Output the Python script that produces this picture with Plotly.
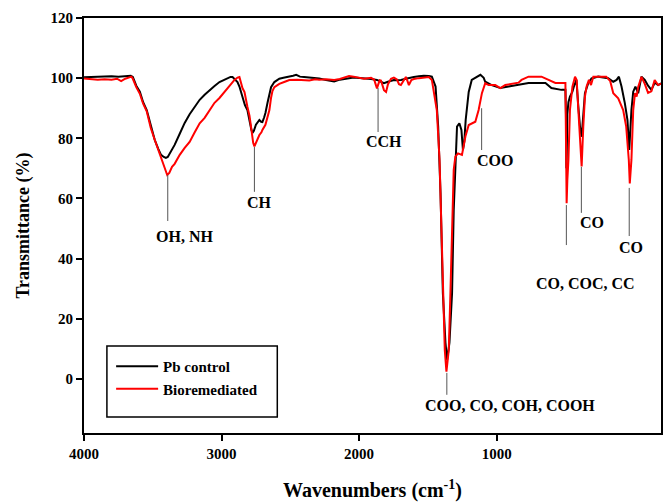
import plotly.graph_objects as go

# ---- data (wavenumber, transmittance) ----
control_wn = [4000, 3950, 3900, 3850, 3800, 3750, 3700, 3660, 3645, 3620, 3594, 3570, 3544, 3515, 3486,
              3460, 3440, 3420, 3405, 3391, 3370, 3341, 3304, 3268, 3232, 3195, 3159, 3123, 3087, 3051,
              3015, 2971, 2935, 2920, 2884, 2870, 2848, 2830, 2812, 2795, 2783, 2775, 2765, 2750, 2739,
              2725, 2712, 2703, 2690, 2681, 2665, 2652, 2640, 2616, 2580, 2550, 2507, 2480, 2457, 2430,
              2400, 2362, 2320, 2290, 2240, 2181, 2140, 2109, 2073, 2040, 2000, 1964, 1913, 1870, 1841,
              1819, 1790, 1768, 1747, 1725, 1696, 1660, 1638, 1602, 1565, 1529, 1493, 1471, 1444, 1425,
              1408, 1391, 1372, 1360, 1343, 1324, 1312, 1300, 1288, 1271, 1256, 1245, 1235, 1225, 1203,
              1181, 1145, 1118, 1094, 1083, 1036, 973, 913, 841, 768, 645, 602, 529, 500, 496,
              493, 490, 486, 478, 467, 449, 435, 420, 406, 394, 382, 370, 358, 334, 310,
              261, 189, 152, 128, 111, 92, 68, 49, 36, 20, 7, -9, -29, -53, -77,
              -101, -125, -150, -174, -196]
control_t = [100.3, 100.4, 100.5, 100.4, 100.6, 100.5, 100.6, 100.8, 100.4, 97.5, 95.5, 92.0, 89.4, 84.0, 79.5,
             76.5, 74.5, 73.8, 73.5, 73.8, 75.5, 77.8, 81.5, 85.1, 88.0, 90.5, 92.8, 94.5, 96.1, 97.4,
             98.7, 99.7, 100.4, 100.4, 98.7, 97.2, 93.8, 91.0, 89.4, 85.0, 82.8, 81.8, 82.5, 84.5, 85.3,
             86.1, 85.5, 85.4, 87.0, 88.4, 92.0, 94.4, 97.0, 98.7, 99.8, 100.1, 100.4, 100.8, 101.1, 100.5,
             100.4, 100.3, 100.1, 99.9, 99.4, 98.9, 99.5, 99.8, 100.0, 100.2, 100.1, 99.9, 99.7, 99.4, 98.8,
             98.3, 98.8, 99.2, 99.4, 99.3, 99.4, 99.8, 100.1, 100.4, 100.6, 100.8, 100.7, 100.5, 97.2, 83.9,
             61.8, 28.6, 12.0, 6.3, 12.0, 28.6, 56.2, 72.8, 83.9, 85.0, 82.8, 76.1, 79.0, 86.1, 95.4,
             99.4, 100.5, 101.1, 100.1, 98.8, 97.7, 96.7, 97.2, 97.9, 98.4, 98.4, 96.7, 96.1, 96.1, 88.0,
             70.0, 75.0, 88.0, 92.0, 93.9, 95.5, 97.7, 99.4, 90.5, 83.9, 80.5, 87.2, 95.0, 98.3, 99.9,
             100.5, 100.0, 98.8, 99.4, 100.5, 97.2, 91.7, 86.1, 76.1, 89.4, 95.5, 97.2, 95.0, 100.5, 99.4,
             97.5, 96.1, 98.5, 97.7, 98.3]

bio_wn = [4000, 3950, 3900, 3850, 3800, 3760, 3730, 3700, 3670, 3655, 3645, 3620, 3594, 3570, 3544,
          3515, 3486, 3460, 3440, 3428, 3413, 3395, 3380, 3360, 3341, 3304, 3268, 3232, 3195, 3159,
          3123, 3087, 3051, 3015, 2971, 2942, 2906, 2884, 2870, 2848, 2833, 2812, 2797, 2783, 2770,
          2761, 2750, 2739, 2725, 2710, 2703, 2681, 2665, 2652, 2640, 2630, 2616, 2580, 2540, 2507,
          2450, 2400, 2362, 2320, 2290, 2240, 2181, 2140, 2109, 2073, 2040, 2000, 1964, 1913, 1890,
          1880, 1870, 1860, 1850, 1841, 1830, 1819, 1804, 1790, 1768, 1747, 1725, 1710, 1696, 1680,
          1660, 1648, 1638, 1620, 1602, 1565, 1529, 1493, 1471, 1435, 1415, 1401, 1391, 1377, 1365,
          1348, 1336, 1324, 1312, 1300, 1281, 1252, 1227, 1203, 1155, 1131, 1107, 1083, 1058, 1010,
          973, 937, 841, 819, 768, 674, 573, 500, 496, 493, 491, 486, 478, 467, 449,
          430, 418, 406, 394, 382, 370, 358, 346, 329, 314, 297, 250, 203, 174, 152,
          116, 80, 58, 39, 32, 20, 7, -6, -18, -29, -53, -77, -101, -125, -149,
          -174, -196]
bio_t = [99.9, 99.7, 99.5, 99.6, 99.5, 99.8, 99.0, 99.8, 100.2, 100.5, 99.8, 97.0, 94.8, 91.5, 89.0,
         83.5, 79.5, 76.0, 73.5, 71.8, 70.0, 67.8, 68.5, 70.5, 71.5, 74.5, 76.8, 78.8, 82.0, 85.0,
         86.8, 89.5, 91.8, 93.4, 95.8, 97.4, 99.4, 100.2, 100.4, 96.7, 95.4, 90.5, 87.5, 83.0, 78.5,
         77.3, 78.5, 79.8, 81.1, 82.0, 82.8, 84.5, 87.8, 89.4, 93.5, 95.7, 97.0, 98.1, 98.8, 99.4,
         99.5, 99.2, 99.2, 99.6, 99.5, 99.6, 99.4, 99.7, 100.1, 100.7, 100.5, 100.1, 99.8, 100.1, 99.5,
         98.0, 96.6, 98.0, 99.3, 99.2, 97.5, 96.0, 95.4, 98.0, 99.8, 100.2, 99.6, 98.0, 97.7, 99.0,
         100.4, 99.0, 97.7, 99.4, 99.7, 100.0, 100.1, 100.4, 99.4, 89.4, 72.8, 50.6, 28.6, 9.6, 2.4,
         9.6, 28.6, 50.6, 69.5, 73.9, 75.0, 74.5, 80.6, 84.4, 85.5, 89.4, 95.0, 98.3, 97.7, 97.7,
         96.7, 97.7, 98.5, 99.4, 100.5, 100.5, 98.4, 98.4, 85.0, 65.0, 58.4, 66.0, 72.8, 89.4, 97.2,
         100.5, 99.4, 89.4, 78.5, 70.6, 83.9, 93.9, 97.2, 99.4, 97.7, 100.5, 100.5, 100.5, 99.0, 95.0,
         93.3, 89.4, 83.9, 72.8, 65.0, 72.8, 89.4, 95.0, 93.9, 97.1, 100.4, 98.1, 95.1, 95.6, 99.4,
         97.7, 98.2]

x_ticks = [4000, 3000, 2000, 1000]
y_ticks = [0, 20, 40, 60, 80, 100, 120]

# band assignments: label text, leader line (x, top, bottom), label position
band_labels = ["OH, NH", "CH", "CCH", "COO", "COO, CO, COH, COOH", "CO, COC, CC", "CO", "CO"]
band_line_x = [3391, 2761, 1862, 1109, 1362, 493, 384, 36]
band_line_top = [67.8, 77.1, 96.7, 90.0, 2.0, 57.8, 70.5, 63.5]
band_line_bottom = [52.5, 62.2, 82.1, 76.1, -5.3, 44.5, 55.2, 47.5]
band_label_x = [3268, 2725, 1819, 1011, 906, 352, 308, 22]
band_label_y = [47.2, 58.8, 79.1, 72.5, -9.0, 31.6, 52.0, 43.6]

FONT = "Liberation Serif"

fig = go.Figure()
fig.add_trace(go.Scatter(x=control_wn, y=control_t, mode="lines", name="Pb control",
                         line=dict(color="black", width=2)))
fig.add_trace(go.Scatter(x=bio_wn, y=bio_t, mode="lines", name="Bioremediated",
                         line=dict(color="#ff0000", width=2)))

for i, lab in enumerate(band_labels):
    fig.add_shape(type="line", xref="x", yref="y",
                  x0=band_line_x[i], x1=band_line_x[i],
                  y0=band_line_top[i], y1=band_line_bottom[i],
                  line=dict(color="#555555", width=1))
    fig.add_annotation(x=band_label_x[i], y=band_label_y[i], text=lab, showarrow=False,
                       xref="x", yref="y",
                       font=dict(family=FONT, size=16, color="black", weight="bold"))

# legend frame
fig.add_shape(type="rect", xref="paper", yref="paper",
              x0=0.0397, x1=0.335, y0=0.0386, y1=0.2096,
              line=dict(color="black", width=1.5), fillcolor="rgba(0,0,0,0)")

fig.update_layout(
    width=665, height=504,
    margin=dict(l=84, r=2, t=18, b=71),
    paper_bgcolor="white", plot_bgcolor="white",
    showlegend=True,
    legend=dict(x=0.047, y=0.2, xanchor="left", yanchor="top",
                bgcolor="rgba(0,0,0,0)", borderwidth=0,
                font=dict(family=FONT, size=15, color="black", weight="bold"),
                itemwidth=42, tracegroupgap=0),
    xaxis=dict(range=[4000, -195], tickvals=x_ticks, ticktext=[str(v) for v in x_ticks],
               ticks="outside", ticklen=6, tickwidth=1.5, tickcolor="black",
               showgrid=False, zeroline=False, showline=True, linewidth=2,
               linecolor="black", mirror=True,
               tickfont=dict(family=FONT, size=15, color="black", weight="bold"),
               title=dict(text="Wavenumbers (cm<sup>-1</sup>)", standoff=22,
                          font=dict(family=FONT, size=20, color="black", weight="bold"))),
    yaxis=dict(range=[-18, 120], tickvals=y_ticks,
               ticks="outside", ticklen=6, tickwidth=1.5, tickcolor="black",
               showgrid=False, zeroline=False, showline=True, linewidth=2,
               linecolor="black", mirror=True,
               tickfont=dict(family=FONT, size=15, color="black", weight="bold"),
               title=dict(text="Transmittance (%)", standoff=16,
                          font=dict(family=FONT, size=18, color="black", weight="bold"))),
)

fig.write_html("out.html")
